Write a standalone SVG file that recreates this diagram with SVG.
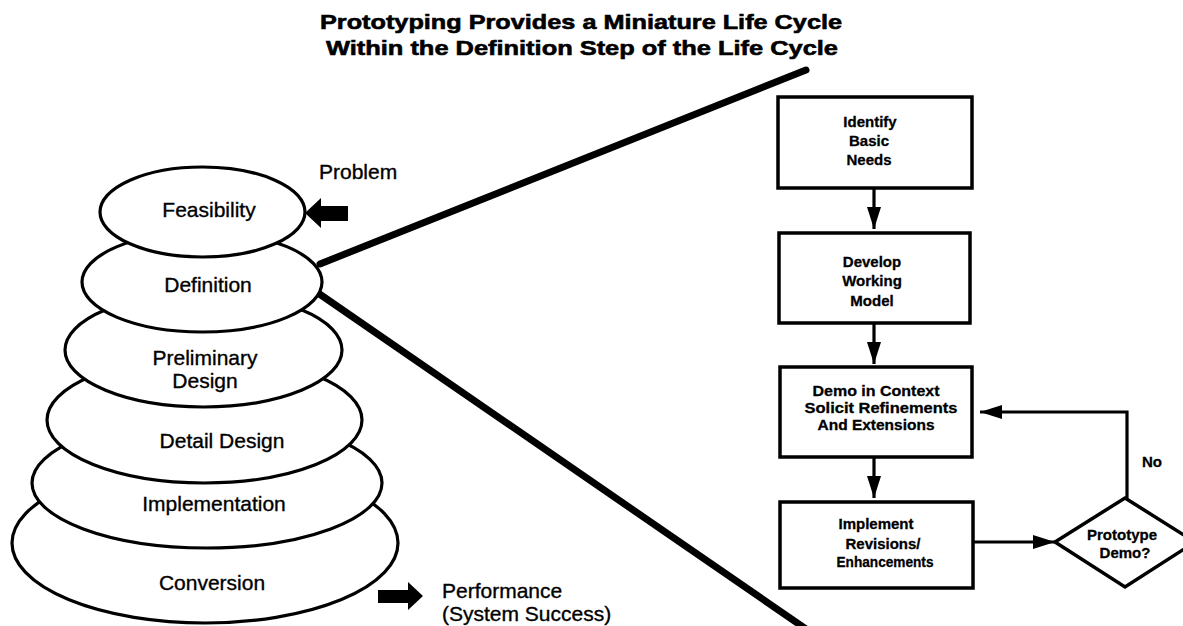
<svg xmlns="http://www.w3.org/2000/svg" width="1183" height="626" viewBox="0 0 1183 626">
<defs>
<style>
.t{font-family:"Liberation Sans",Arial,sans-serif;fill:#000}
.title{font-size:21px;font-weight:bold;stroke:#000;stroke-width:0.6}
.stage{font-size:21px;stroke:#000;stroke-width:0.35}
.box{font-size:15px;font-weight:bold;stroke:#000;stroke-width:0.3}
.ell{fill:#fff;stroke:#000;stroke-width:3.2}
.rect{fill:#fff;stroke:#000;stroke-width:3.5}
.conn{fill:none;stroke:#000;stroke-width:3.2}
.big{fill:none;stroke:#000;stroke-width:7;stroke-linecap:round}
</style>
<marker id="ah" markerUnits="userSpaceOnUse" markerWidth="24" markerHeight="16" refX="22" refY="8" orient="auto">
<path d="M0,1 L22,8 L0,15 Z" fill="#000"/>
</marker>
</defs>
<rect width="1183" height="626" fill="#fff"/>

<g id="title">
<text class="t title" x="581" y="29" text-anchor="middle" textLength="522" lengthAdjust="spacingAndGlyphs">Prototyping Provides a Miniature Life Cycle</text>
<text class="t title" x="582" y="55" text-anchor="middle" textLength="512" lengthAdjust="spacingAndGlyphs">Within the Definition Step of the Life Cycle</text>
</g>

<g id="magnifier-lines">
<line class="big" x1="320" y1="264" x2="806" y2="70"/>
<line class="big" x1="318" y1="293" x2="806" y2="629"/>
</g>

<g id="stage-conversion">
<ellipse class="ell" cx="205" cy="543" rx="193" ry="80"/>
<text class="t stage" x="212" y="590" text-anchor="middle">Conversion</text>
</g>
<g id="stage-implementation">
<ellipse class="ell" cx="207" cy="483" rx="175" ry="65"/>
<text class="t stage" x="214" y="511" text-anchor="middle">Implementation</text>
</g>
<g id="stage-detail">
<ellipse class="ell" cx="204.5" cy="420" rx="157.5" ry="63"/>
<text class="t stage" x="222" y="448" text-anchor="middle">Detail Design</text>
</g>
<g id="stage-preliminary">
<ellipse class="ell" cx="203.5" cy="350" rx="138.5" ry="57"/>
<text class="t stage" x="205" y="365" text-anchor="middle">Preliminary</text>
<text class="t stage" x="205" y="388" text-anchor="middle">Design</text>
</g>
<g id="stage-definition">
<ellipse class="ell" cx="202" cy="282" rx="120" ry="50"/>
<text class="t stage" x="208" y="292" text-anchor="middle">Definition</text>
</g>
<g id="stage-feasibility">
<ellipse class="ell" cx="202.5" cy="212" rx="102.5" ry="45"/>
<text class="t stage" x="209" y="217" text-anchor="middle">Feasibility</text>
</g>

<g id="problem">
<text class="t stage" x="319" y="179">Problem</text>
<path d="M305,213 L321,198 L321,206 L348,206 L348,221 L321,221 L321,228 Z" fill="#000"/>
</g>

<g id="performance">
<path d="M378,590 L408,590 L408,582 L423,596 L408,610 L408,603 L378,603 Z" fill="#000"/>
<text class="t stage" x="442" y="598">Performance</text>
<text class="t stage" x="442" y="621">(System Success)</text>
</g>

<g id="box-identify">
<rect class="rect" x="778" y="97" width="194" height="91"/>
<text class="t box" x="870" y="127" text-anchor="middle">Identify</text>
<text class="t box" x="869" y="146" text-anchor="middle">Basic</text>
<text class="t box" x="869" y="165" text-anchor="middle">Needs</text>
</g>
<g id="box-develop">
<rect class="rect" x="779" y="233" width="191" height="90"/>
<text class="t box" x="872" y="267" text-anchor="middle">Develop</text>
<text class="t box" x="872" y="286" text-anchor="middle">Working</text>
<text class="t box" x="872" y="306" text-anchor="middle">Model</text>
</g>
<g id="box-demo">
<rect class="rect" x="780" y="367" width="192" height="90"/>
<text class="t box" x="876" y="396" text-anchor="middle" textLength="127" lengthAdjust="spacingAndGlyphs">Demo in Context</text>
<text class="t box" x="881" y="413" text-anchor="middle" textLength="153" lengthAdjust="spacingAndGlyphs">Solicit Refinements</text>
<text class="t box" x="876" y="430" text-anchor="middle" textLength="117" lengthAdjust="spacingAndGlyphs">And Extensions</text>
</g>
<g id="box-implement">
<rect class="rect" x="780" y="502" width="193" height="86"/>
<text class="t box" x="876" y="529" text-anchor="middle">Implement</text>
<text class="t box" x="883" y="549" text-anchor="middle">Revisions/</text>
<text class="t box" x="885" y="567" text-anchor="middle" textLength="97" lengthAdjust="spacingAndGlyphs">Enhancements</text>
</g>
<g id="decision">
<polygon points="1125,498 1195,542 1125,587 1055,542" fill="#fff" stroke="#000" stroke-width="3.5" stroke-linejoin="miter"/>
<text class="t box" x="1122" y="540" text-anchor="middle">Prototype</text>
<text class="t box" x="1125" y="558" text-anchor="middle">Demo?</text>
</g>

<g id="connectors">
<line class="conn" x1="874" y1="188" x2="874" y2="229" marker-end="url(#ah)"/>
<line class="conn" x1="874" y1="323" x2="874" y2="364" marker-end="url(#ah)"/>
<line class="conn" x1="874" y1="457" x2="874" y2="498" marker-end="url(#ah)"/>
<line class="conn" x1="973" y1="542" x2="1055" y2="542" marker-end="url(#ah)"/>
<path class="conn" d="M1127,498 V412 H980" marker-end="url(#ah)"/>
<text class="t box" x="1142" y="467">No</text>
</g>
</svg>
